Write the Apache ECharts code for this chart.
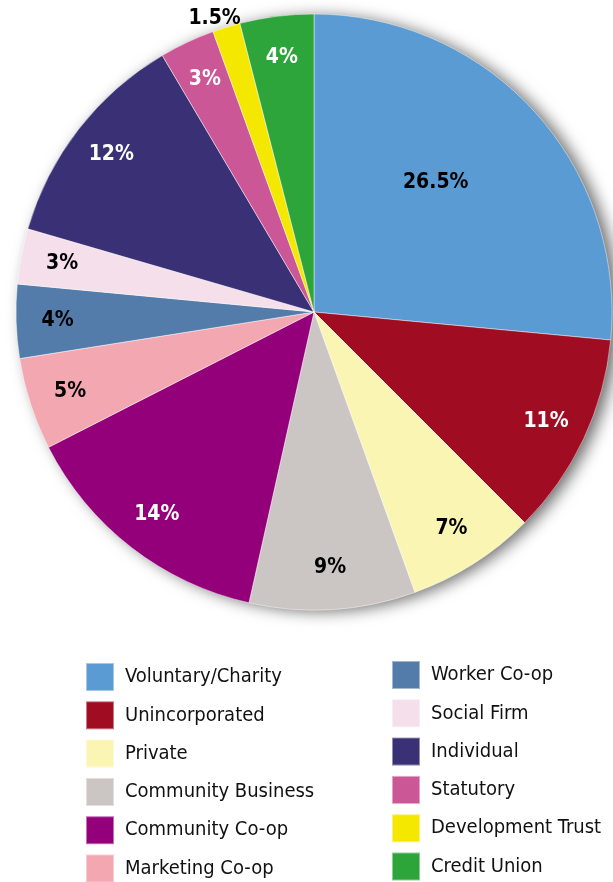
<!DOCTYPE html>
<html>
<head>
<meta charset="utf-8">
<script src="https://cdn.jsdelivr.net/npm/echarts@6/dist/echarts.min.js"></script>
<style>
html, body { margin: 0; padding: 0; background: #fff; }
#main { width: 613px; height: 882px; }
</style>
</head>
<body>
<div id="main"></div>
<script>
var categories = ['Voluntary/Charity', 'Unincorporated', 'Private', 'Community Business', 'Community Co-op', 'Marketing Co-op',
  'Worker Co-op', 'Social Firm', 'Individual', 'Statutory', 'Development Trust', 'Credit Union'];
var shares = [26.5, 11, 7, 9, 14, 5, 4, 3, 12, 3, 1.5, 4];
var colors = ['#5b9bd3', '#a00d23', '#fbf5b4', '#cbc5c3', '#94007a', '#f3a7b0',
  '#537caa', '#f4dfea', '#3a3075', '#cc5796', '#f5e800', '#2ea53a'];
var labelColors = ['#000', '#fff', '#000', '#000', '#fff', '#000', '#000', '#000', '#fff', '#fff', '#000', '#fff'];
var labelShift = { 0: [-68, 43], 10: [-24, -48] };

var font = '"DejaVu Sans Condensed", "Liberation Sans Narrow", "Noto Sans", sans-serif';

var myChart = echarts.init(document.getElementById('main'));

var pieData = categories.map(function (name, i) {
  return { name: name, value: shares[i], itemStyle: { color: colors[i] } };
});
var labelData = categories.map(function (name, i) {
  return {
    name: name, value: shares[i],
    label: { color: labelColors[i], offset: labelShift[i] || [0, 0] }
  };
});

var legendBase = {
  orient: 'vertical', height: 300,
  itemWidth: 28, itemHeight: 28, itemGap: 8.3,
  icon: 'rect', selectedMode: false,
  textStyle: { fontFamily: font, fontSize: 20, lineHeight: 19, color: '#111', padding: [9, 0, 0, 6] }
};

var option = {
  animation: false,
  legend: [
    Object.assign({}, legendBase, { left: 80, top: 657, data: categories.slice(0, 6) }),
    Object.assign({}, legendBase, { left: 386, top: 655, data: categories.slice(6) })
  ],
  series: [
    {
      // shadow behind the pie
      type: 'pie', name: 'backdrop',
      center: [314, 312], radius: [0, 297],
      silent: true, label: { show: false }, labelLine: { show: false },
      itemStyle: {
        color: '#fff',
        shadowColor: 'rgba(0,0,0,0.6)', shadowBlur: 16, shadowOffsetX: 7, shadowOffsetY: 2
      },
      data: [{ name: '', value: 1 }]
    },
    {
      type: 'pie',
      center: [314, 312],
      radius: [0, 298],
      startAngle: 90,
      clockwise: true,
      label: { show: false },
      labelLine: { show: false },
      silent: true,
      itemStyle: { borderColor: 'rgba(255,255,255,0.45)', borderWidth: 1 },
      data: pieData
    },
    {
      type: 'pie',
      center: [314, 312],
      radius: [209, 298],
      startAngle: 90,
      clockwise: true,
      silent: true,
      itemStyle: { color: 'rgba(0,0,0,0)' },
      label: {
        show: true, position: 'inside',
        formatter: '{c}%',
        fontFamily: font, fontSize: 21, fontWeight: 'bold'
      },
      labelLine: { show: false },
      data: labelData
    }
  ]
};
myChart.setOption(option);
</script>
</body>
</html>
